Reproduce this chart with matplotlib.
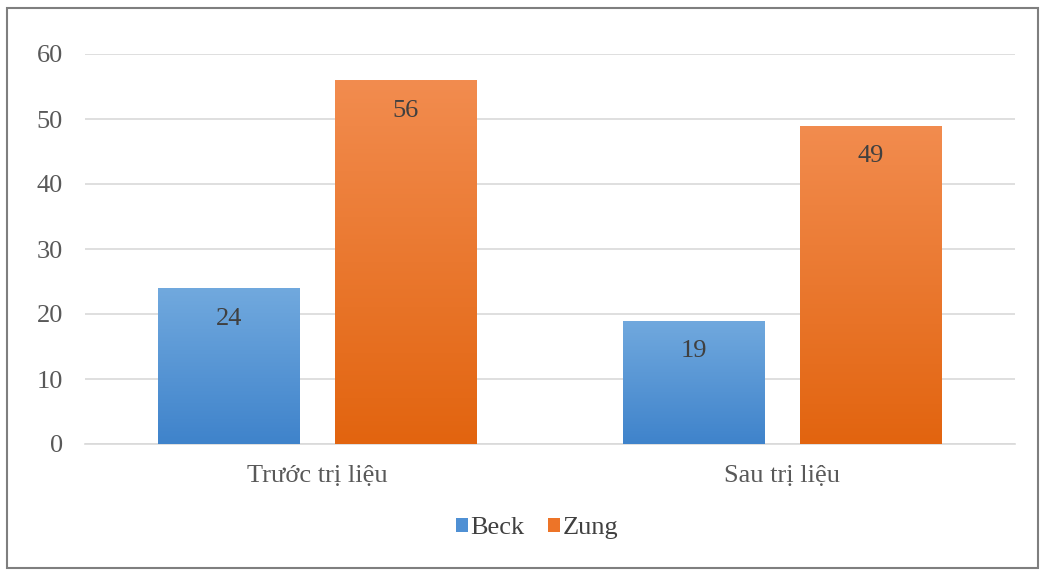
import numpy as np
import matplotlib.pyplot as plt
from matplotlib.patches import Rectangle
from matplotlib.colors import LinearSegmentedColormap

categories = ['Trước trị liệu', 'Sau trị liệu']
series = ['Beck', 'Zung']
beck = [24, 19]
zung = [56, 49]

plt.rcParams['font.family'] = ['Liberation Serif', 'DejaVu Serif']

grad = {
    'Beck': ('#3f83cb', '#71a9de'),
    'Zung': ('#e2640f', '#f28c4f'),
}
solid = {'Beck': '#4f90d4', 'Zung': '#ed7428'}
fs = 19

fig = plt.figure(figsize=(10.45, 5.71), dpi=100)
ax = fig.add_axes([85 / 1045, 1 - 444 / 571, 930 / 1045, 390 / 571])

x = np.arange(len(categories))
w = 0.305
offsets = [-0.19, 0.19]
for name, vals, off in zip(series, [beck, zung], offsets):
    bars = ax.bar(x + off, vals, w, color=solid[name], label=name, zorder=2)
    cmap = LinearSegmentedColormap.from_list(name, grad[name])
    for b, v in zip(bars, vals):
        x0 = b.get_x()
        img = ax.imshow(np.linspace(0, 1, 256).reshape(-1, 1), cmap=cmap,
                        origin='lower', aspect='auto',
                        extent=[x0, x0 + b.get_width(), 0, v], zorder=3)
        img.set_clip_path(b)
        ax.text(b.get_x() + b.get_width() / 2, v - 4.7, str(v), ha='center',
                va='center', fontsize=fs, color='#404040', zorder=4)

ax.set_xlim(-0.5, 1.5)
ax.set_ylim(0, 60)
ax.set_yticks(range(0, 61, 10))
ax.set_xticks(x)
ax.set_xticklabels(categories)
ax.tick_params(axis='both', length=0, labelsize=fs, labelcolor='#595959')
ax.tick_params(axis='y', pad=16)
ax.tick_params(axis='x', pad=15)
ax.yaxis.grid(True, color='#d9d9d9', linewidth=1.2, zorder=0)
ax.set_axisbelow(True)
for s in ['top', 'right', 'left']:
    ax.spines[s].set_visible(False)
ax.spines['bottom'].set_color('#d9d9d9')
ax.spines['bottom'].set_linewidth(1.2)

leg = fig.legend(loc='center', bbox_to_anchor=(537 / 1045, 1 - 528 / 571),
                 ncol=2, frameon=False, fontsize=fs, handlelength=0.45,
                 handleheight=0.45, handletextpad=0.1, columnspacing=0.9,
                 labelcolor='#404040')

fig.add_artist(Rectangle((7 / 1045, 3 / 571), 1031 / 1045, 560 / 571,
                         transform=fig.transFigure, fill=False,
                         edgecolor='#7f7f7f', linewidth=1.5))

fig.savefig('out.png', dpi=100)
